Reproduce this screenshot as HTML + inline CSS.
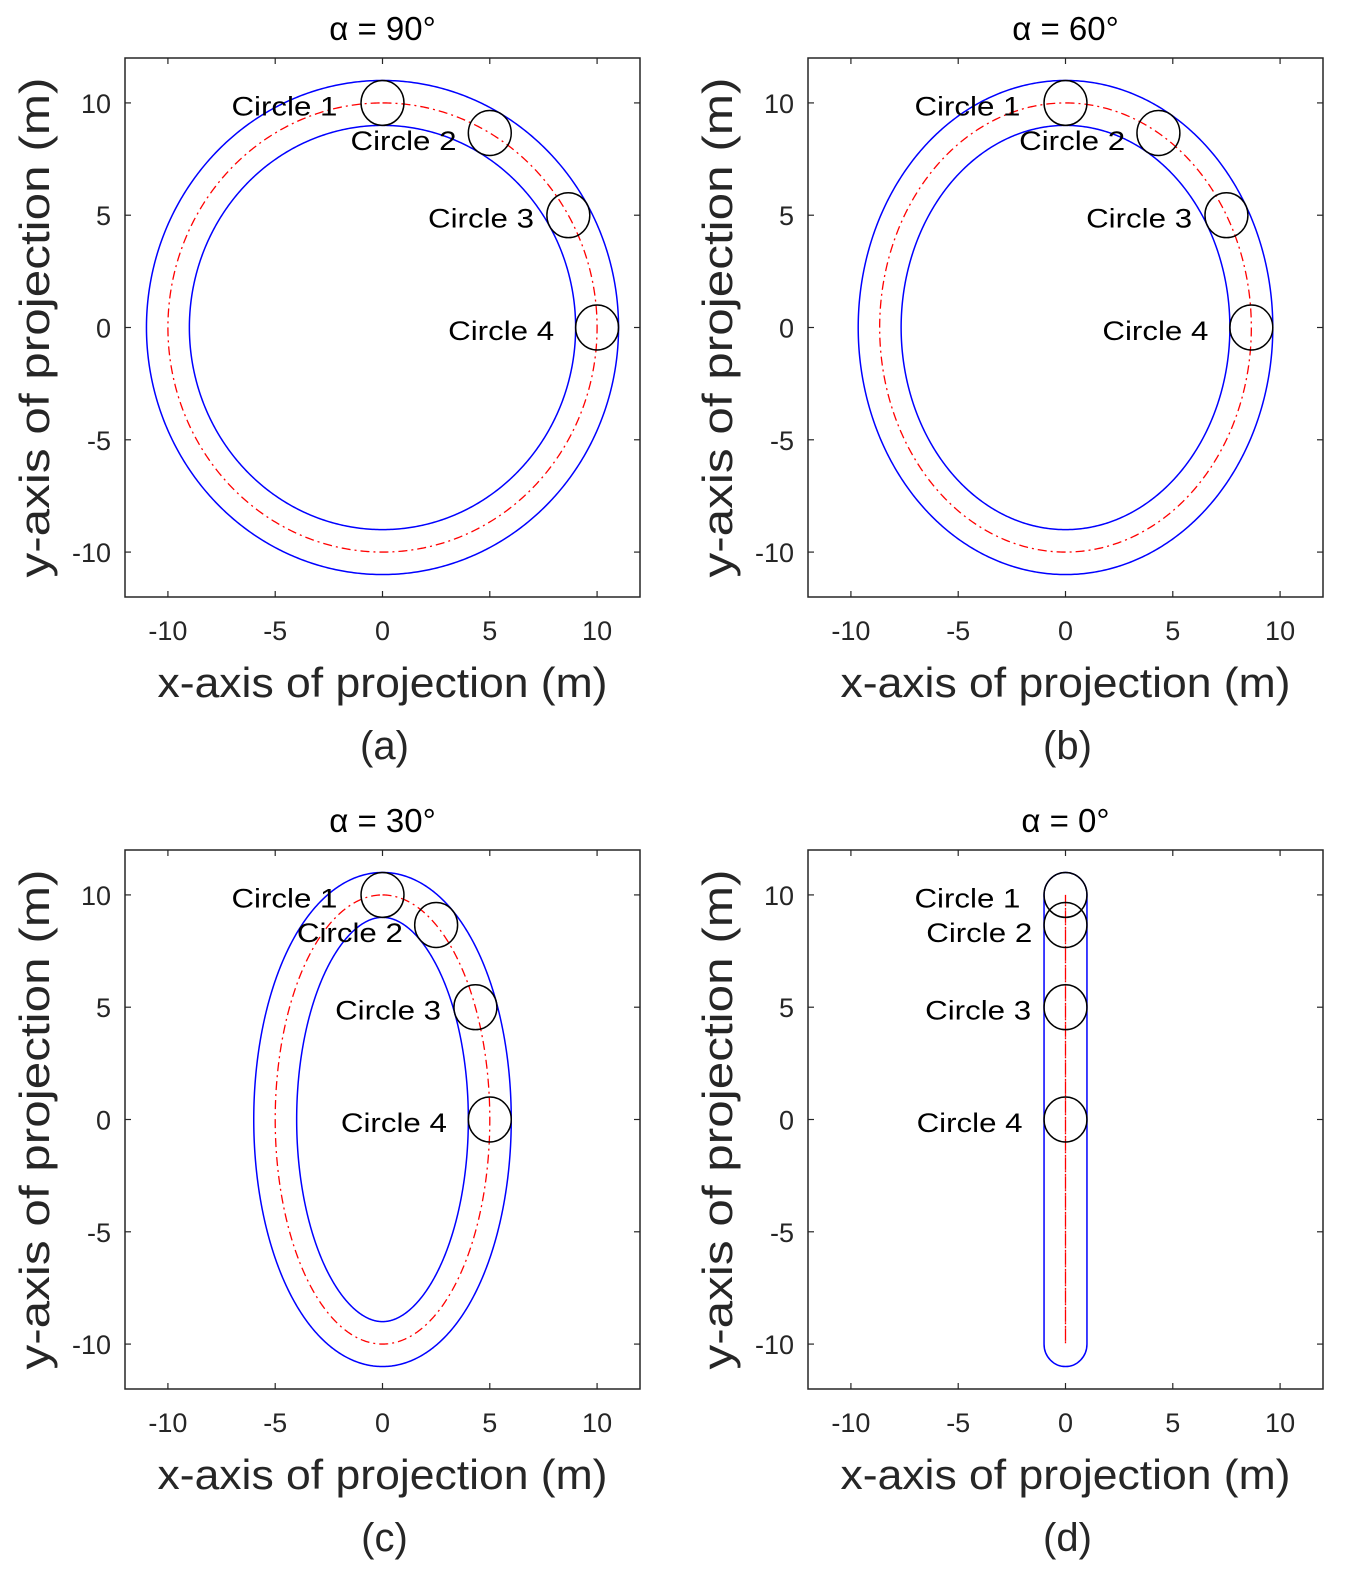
<!DOCTYPE html>
<html><head><meta charset="utf-8"><style>
body{margin:0;background:#fff}
svg text{font-family:"Liberation Sans",sans-serif;fill:#262626}
</style></head><body>
<svg id="fig" width="1352" height="1580" viewBox="0 0 1352 1580" xmlns="http://www.w3.org/2000/svg"></svg>
<script>
const alphas=[90,60,30,0];
const panelTitles=["α = 90°","α = 60°","α = 30°","α = 0°"];
const panelLetters=["(a)","(b)","(c)","(d)"];
const circleAngles=[0,30,60,90];
const circleNames=["Circle 1","Circle 2","Circle 3","Circle 4"];
const ticks=[-10,-5,0,5,10];
const radiusCenter=10;
const tubeRadius=1;
const labelDx=[-2.1,-1.55,-1.6,-2.0];
const labelDy=[-0.15,-0.35,-0.15,-0.15];

const NS="http://www.w3.org/2000/svg";
const svg=document.getElementById('fig');
function mk(tag,attrs,parent){const e=document.createElementNS(NS,tag);for(const k in attrs)e.setAttribute(k,attrs[k]);(parent||svg).appendChild(e);return e;}
const boxes=[[125,58],[808,58],[125,850],[808,850]];
const W=515,H=539;
alphas.forEach((al,pi)=>{
  const [bx,by]=boxes[pi];
  const g=mk('g',{});
  
  
  const sx=v=>bx+(v+12)/24*W, sy=v=>by+(12-v)/24*H;
  const A=radiusCenter*Math.sin(al*Math.PI/180);
  const ptsO=[],ptsI=[];
  if(A>0.01){
    for(let i=0;i<=720;i++){const t=i/720*2*Math.PI;
      const px=A*Math.sin(t),py=radiusCenter*Math.cos(t);
      let nx=radiusCenter*Math.sin(t),ny=A*Math.cos(t);const n=Math.hypot(nx,ny);nx/=n;ny/=n;
      ptsO.push(sx(px+nx*tubeRadius).toFixed(2)+','+sy(py+ny*tubeRadius).toFixed(2));
      ptsI.push(sx(px-nx*tubeRadius).toFixed(2)+','+sy(py-ny*tubeRadius).toFixed(2));}
    const o=mk('polyline',{points:ptsO.join(' '),fill:'none',stroke:'#0000ff','stroke-width':1.5},g);
    
    const ii=mk('polyline',{points:ptsI.join(' '),fill:'none',stroke:'#0000ff','stroke-width':1.5},g);
    
  } else {
    const r=tubeRadius,rx=sx(r)-sx(0),ry=sy(0)-sy(r);
    const d=`M${sx(-r)},${sy(radiusCenter)} L${sx(-r)},${sy(-radiusCenter)} A${rx},${ry} 0 0 0 ${sx(r)},${sy(-radiusCenter)} L${sx(r)},${sy(radiusCenter)} A${rx},${ry} 0 0 0 ${sx(-r)},${sy(radiusCenter)} Z`;
    const o=mk('path',{d:d,fill:'none',stroke:'#0000ff','stroke-width':1.5},g);
    
  }
  const pc=[];
  for(let i=0;i<=720;i++){const t=i/720*2*Math.PI;pc.push(sx(A*Math.sin(t)).toFixed(2)+','+sy(radiusCenter*Math.cos(t)).toFixed(2));}
  const c=mk('polyline',{points:pc.join(' '),fill:'none',stroke:'#ff0000','stroke-width':1.3,'stroke-dasharray':'9,4,2,4'},g);
  
  circleAngles.forEach((th,ci)=>{
    const t=th*Math.PI/180;const cx=A*Math.sin(t),cy=radiusCenter*Math.cos(t);
    const e=mk('ellipse',{cx:sx(cx),cy:sy(cy),rx:sx(tubeRadius)-sx(0),ry:sy(0)-sy(tubeRadius),fill:'none',stroke:'#000','stroke-width':1.5},g);
    
    const tx=mk('text',{x:sx(cx+labelDx[ci]),y:sy(cy+labelDy[ci])+9,'text-anchor':'end','font-size':27,textLength:106,lengthAdjust:'spacingAndGlyphs',style:'fill:#000'},g);
    tx.textContent=circleNames[ci];
    
  });
  const fr=mk('rect',{x:bx,y:by,width:W,height:H,fill:'none',stroke:'#262626','stroke-width':1.5},g);
  
  ticks.forEach(v=>{
    mk('line',{x1:sx(v),x2:sx(v),y1:by+H,y2:by+H-6,stroke:'#262626','stroke-width':1.2},g);
    mk('line',{x1:sx(v),x2:sx(v),y1:by,y2:by+6,stroke:'#262626','stroke-width':1.2},g);
    mk('line',{x1:bx,x2:bx+6,y1:sy(v),y2:sy(v),stroke:'#262626','stroke-width':1.2},g);
    mk('line',{x1:bx+W,x2:bx+W-6,y1:sy(v),y2:sy(v),stroke:'#262626','stroke-width':1.2},g);
    const xt=mk('text',{x:sx(v),y:by+H+43,'text-anchor':'middle','font-size':27},g);xt.textContent=v;
    
    const yt=mk('text',{x:bx-14,y:sy(v)+10,'text-anchor':'end','font-size':27},g);yt.textContent=v;
    
  });
  const ti=mk('text',{x:bx+W/2,y:by-18,'text-anchor':'middle','font-size':33,style:'fill:#000'},g);ti.textContent=panelTitles[pi];
  
  const xl=mk('text',{x:bx+W/2,y:by+H+100,'text-anchor':'middle','font-size':42,textLength:450,lengthAdjust:'spacingAndGlyphs'},g);xl.textContent='x-axis of projection (m)';
  
  const yl=mk('text',{x:0,y:0,'text-anchor':'middle','font-size':42,textLength:500,lengthAdjust:'spacingAndGlyphs',transform:`translate(${bx-76},${by+H/2}) rotate(-90)`},g);yl.textContent='y-axis of projection (m)';
  
  const pl=mk('text',{x:bx+W/2+2,y:by+H+162,'text-anchor':'middle','font-size':40},g);pl.textContent=panelLetters[pi];
  
});
</script>
</body></html>
